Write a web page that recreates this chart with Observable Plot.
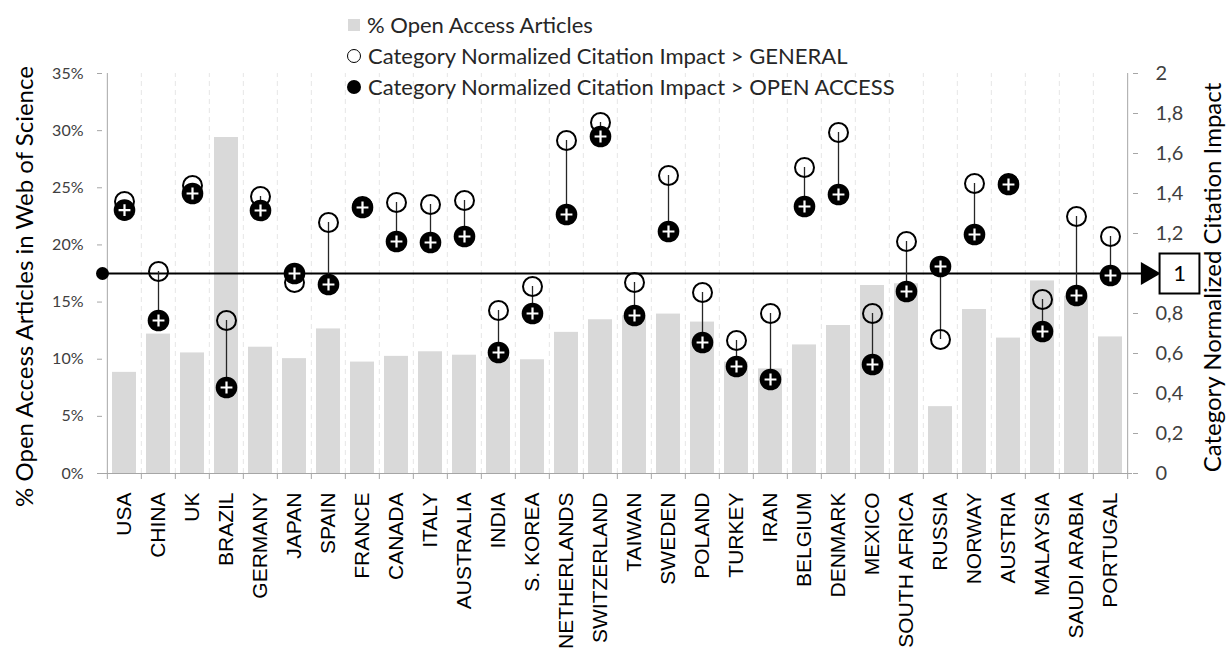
<!DOCTYPE html>
<html>
<head>
<meta charset="utf-8">
<script src="https://cdn.jsdelivr.net/npm/d3@7"></script>
<script src="https://cdn.jsdelivr.net/npm/@observablehq/plot@0.6"></script>
<style>
  html, body { margin: 0; padding: 0; background: #fff; }
  #wrap { position: relative; width: 1228px; height: 653px; overflow: hidden; }
  #legend { position: absolute; left: 347px; top: 9px; font-family: Lato, "Open Sans", sans-serif; font-size: 22px; color: #262626; }
  .item { display: flex; align-items: center; height: 31px; white-space: nowrap; }
  .sw { width: 14px; height: 14px; margin-right: 7px; display: inline-block; box-sizing: border-box; }
</style>
</head>
<body>
<div id="wrap">
  <div id="chart"></div>
  <div id="legend"></div>
</div>
<script>
// ---- data ----
const countries = ["USA","CHINA","UK","BRAZIL","GERMANY","JAPAN","SPAIN","FRANCE","CANADA","ITALY","AUSTRALIA","INDIA","S. KOREA","NETHERLANDS","SWITZERLAND","TAIWAN","SWEDEN","POLAND","TURKEY","IRAN","BELGIUM","DENMARK","MEXICO","SOUTH AFRICA","RUSSIA","NORWAY","AUSTRIA","MALAYSIA","SAUDI ARABIA","PORTUGAL"];
const openAccessShare = [8.85, 12.2, 10.55, 29.4, 11.05, 10.05, 12.65, 9.75, 10.25, 10.65, 10.35, 10.15, 9.95, 12.35, 13.45, 13.8, 13.95, 13.25, 9.75, 9.15, 11.25, 12.95, 16.45, 16.6, 5.85, 14.35, 11.85, 16.85, 15.5, 11.95];
const cnciGeneral = [1.36, 1.01, 1.44, 0.765, 1.385, 0.955, 1.255, 1.335, 1.355, 1.345, 1.365, 0.815, 0.935, 1.665, 1.755, 0.955, 1.49, 0.905, 0.665, 0.80, 1.53, 1.705, 0.80, 1.16, 0.67, 1.45, 1.45, 0.87, 1.285, 1.185];
const cnciOpenAccess = [1.317, 0.765, 1.40, 0.43, 1.315, 1.0, 0.945, 1.33, 1.16, 1.155, 1.185, 0.605, 0.80, 1.295, 1.685, 0.79, 1.21, 0.655, 0.535, 0.47, 1.335, 1.395, 0.545, 0.91, 1.035, 1.195, 1.445, 0.71, 0.89, 0.99];
const leftTicks = [0, 5, 10, 15, 20, 25, 30, 35];
const rightTicks = [0, 0.2, 0.4, 0.6, 0.8, 1.2, 1.4, 1.6, 1.8, 2];
const rightTickLabels = ["0", "0,2", "0,4", "0,6", "0,8", "1,2", "1,4", "1,6", "1,8", "2"];
const referenceValue = 1;
const legendLabels = ["% Open Access Articles", "Category Normalized Citation Impact > GENERAL", "Category Normalized Citation Impact > OPEN ACCESS"];
const leftTitle = "% Open Access Articles in Web of Science";
const rightTitle = "Category Normalized Citation Impact";

// ---- layout ----
const W = 1228, H = 653;
const mL = 102, mR = 96, mT = 73, mB = 180;
const step = (W - mL - mR) / countries.length;
const pctMax = 35, cnciMax = 2;
const k = pctMax / cnciMax; // maps CNCI onto the percent axis

const data = countries.map((c, i) => ({
  country: c, oa: openAccessShare[i], gen: cnciGeneral[i], oacn: cnciOpenAccess[i]
}));

const font = "Lato, 'Open Sans', sans-serif";
const axisGray = "#a6a6a6";

const chart = Plot.plot({
  width: W, height: H,
  marginLeft: mL, marginRight: mR, marginTop: mT, marginBottom: mB,
  style: {fontFamily: font, color: "#404040", background: "#fff"},
  x: {domain: countries, paddingInner: 0.29, paddingOuter: 0.145, axis: null},
  y: {domain: [0, pctMax], axis: null},
  marks: [
    // dashed vertical gridlines at category boundaries
    Plot.ruleX(countries.slice(1), {x: d => d, dx: -step / 2, y1: 0, y2: pctMax, stroke: "#e6e6e6", strokeDasharray: "5,4"}),
    // bars: % open access
    Plot.barY(data, {x: "country", y: "oa", fill: "#d9d9d9"}),
    // axis lines
    Plot.ruleX([countries[0]], {x: d => d, dx: -step / 2, y1: 0, y2: pctMax, stroke: axisGray}),
    Plot.ruleX([countries[countries.length - 1]], {x: d => d, dx: step / 2, y1: 0, y2: pctMax, stroke: axisGray}),
    Plot.ruleY([0], {stroke: axisGray}),
    // bottom tick marks at category boundaries
    Plot.axisX({ticks: countries, tickSize: 6, dx: -step / 2, tickFormat: () => "", stroke: axisGray, label: null}),
    Plot.axisX({ticks: [countries[countries.length - 1]], tickSize: 6, dx: step / 2, tickFormat: () => "", stroke: axisGray, label: null}),
    // country labels
    Plot.axisX({tickSize: 0, tickPadding: 19, tickRotate: -90, fontSize: 21, fontFamily: "'Liberation Sans', Arial, sans-serif", color: "#000", label: null}),
    // left axis (%)
    Plot.axisY({ticks: leftTicks, tickFormat: d => d + "%", tickSize: 5, tickPadding: 14, fontSize: 16, stroke: axisGray, fill: "#404040", label: null}),
    // right axis (CNCI)
    Plot.axisY({anchor: "right", ticks: rightTicks.map(v => v * k), tickFormat: (v) => rightTickLabels[rightTicks.findIndex(t => Math.abs(t * k - v) < 1e-6)], tickSize: 5, tickPadding: 18, textAnchor: "start", fontSize: 20, stroke: axisGray, fill: "#404040", label: null}),
    Plot.tickY([referenceValue * k], {frameAnchor: "right"}),
    // reference line at CNCI = 1 with start dot, arrowhead and boxed label
    Plot.ruleY([referenceValue], {y: v => v * k, stroke: "#000", strokeWidth: 2.2, insetRight: -14}),
    Plot.dot([referenceValue], {y: v => v * k, frameAnchor: "left", r: 6.5, fill: "#000"}),
    Plot.dot([referenceValue], {y: v => v * k, frameAnchor: "right", dx: 15, symbol: "triangle", rotate: 90, r: 8.5, fill: "#000"}),
    Plot.dot([referenceValue], {y: v => v * k, frameAnchor: "right", dx: 47, symbol: "square", r: 22.5, fill: "#fff", stroke: "#000", strokeWidth: 2}),
    Plot.text([referenceValue], {y: v => v * k, frameAnchor: "right", dx: 47, textAnchor: "middle", text: d => String(d), fontSize: 22, fill: "#000"}),
    // connectors between general and open-access CNCI
    Plot.ruleX(data, {x: "country", y1: d => d.gen * k, y2: d => d.oacn * k, stroke: "#262626", strokeWidth: 1.3}),
    // general CNCI: open circles
    Plot.dot(data, {x: "country", y: d => d.gen * k, r: 9.5, stroke: "#000", strokeWidth: 2, fill: "none"}),
    // open access CNCI: black circles with white plus
    Plot.dot(data, {x: "country", y: d => d.oacn * k, r: 10.8, fill: "#000"}),
    Plot.dot(data, {x: "country", y: d => d.oacn * k, symbol: "plus", r: 3.9, stroke: "#fff", strokeWidth: 2.2}),
    // axis titles
    Plot.text([leftTitle], {text: d => d, frameAnchor: "left", textAnchor: "middle", dx: -77, dy: 13, rotate: -90, fontSize: 24, fill: "#000"}),
    Plot.text([rightTitle], {text: d => d, frameAnchor: "right", textAnchor: "middle", dx: 81, dy: 4, rotate: -90, fontSize: 24, fill: "#000"})
  ]
});
document.getElementById("chart").appendChild(chart);

// ---- legend ----
const legend = d3.select("#legend");
const swatches = [
  s => s.style("background", "#d9d9d9").style("width", "12px").style("height", "12px").style("margin-left", "1px"),
  s => s.style("border", "1.5px solid #000").style("border-radius", "50%"),
  s => s.style("background", "#000").style("border-radius", "50%")
];
legendLabels.forEach((lab, i) => {
  const it = legend.append("div").attr("class", "item");
  swatches[i](it.append("span").attr("class", "sw"));
  it.append("span").text(lab);
});
</script>
</body>
</html>
